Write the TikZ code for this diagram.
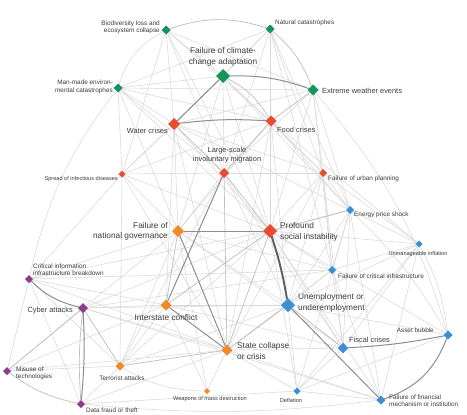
\documentclass[tikz,border=0pt]{standalone}
\usepackage{fontspec}
\setmainfont{Liberation Sans}
\usetikzlibrary{shapes.geometric}
\pgfdeclarelayer{bgl}
\pgfdeclarelayer{edges}
\pgfsetlayers{bgl,edges,main}
\definecolor{cg}{HTML}{17945B}
\definecolor{cr}{HTML}{EA4A2E}
\definecolor{co}{HTML}{F28A2A}
\definecolor{cp}{HTML}{8E3A8F}
\definecolor{cb}{HTML}{3B8FD6}
\definecolor{txt}{HTML}{3C3C3C}
\definecolor{l1}{HTML}{D9D9D9}
\definecolor{l2}{HTML}{BEBEBE}
\definecolor{l3}{HTML}{8E8E8E}
\definecolor{l4}{HTML}{5E5E5E}
\begin{document}
\begin{tikzpicture}[x=1pt,y=-1pt,
  dia/.style={diamond,aspect=1,inner sep=0pt,outer sep=0pt,minimum size=#1},
  nG/.style={dia=#1,fill=cg}, nR/.style={dia=#1,fill=cr}, nO/.style={dia=#1,fill=co},
  nP/.style={dia=#1,fill=cp}, nB/.style={dia=#1,fill=cb},
  lab/.style={inner sep=0pt,text=txt},
  fL/.style={lab,font=\fontsize{8.3}{10.5}\selectfont},
  fM/.style={lab,font=\fontsize{7.4}{9.2}\selectfont},
  fS/.style={lab,font=\fontsize{6.4}{7.4}\selectfont},
  fT/.style={lab,font=\fontsize{5.6}{6.8}\selectfont},
  ln1/.style={draw=l1,line width=0.55pt},
  ln2/.style={draw=l2,line width=0.7pt},
  ln3/.style={draw=l3,line width=1.0pt},
  ln4/.style={draw=l4,line width=1.9pt},
]
\useasboundingbox (0,0) rectangle (467,415);
\begin{pgfonlayer}{bgl}
\fill[white] (0,0) rectangle (467,415);
\end{pgfonlayer}
% green
\node[nG=9pt] (bio) at (166,30) {};
\node[nG=9pt] (nat) at (270,29) {};
\node[nG=14pt] (clim) at (223,76) {};
\node[nG=9pt] (man) at (118,88) {};
\node[nG=11pt] (ext) at (313,90) {};
% red
\node[nR=12pt] (water) at (174,124) {};
\node[nR=11pt] (food) at (271,121) {};
\node[nR=10pt] (mig) at (224,173) {};
\node[nR=7pt] (spread) at (122,174) {};
\node[nR=8pt] (urban) at (323,173) {};
\node[nR=14pt] (soc) at (270,231) {};
% orange
\node[nO=12pt] (gov) at (178,231) {};
\node[nO=11pt] (inter) at (166,305) {};
\node[nO=11pt] (state) at (227,350) {};
\node[nO=9pt] (terror) at (120,366) {};
\node[nO=6pt] (wmd) at (207,391) {};
% purple
\node[nP=8pt] (cii) at (29,279) {};
\node[nP=10pt] (cyber) at (83,308) {};
\node[nP=8pt] (misuse) at (7,371) {};
\node[nP=8pt] (data) at (81,404) {};
% blue
\node[nB=8pt] (energy) at (350,210) {};
\node[nB=7pt] (infl) at (419,244) {};
\node[nB=8pt] (crit) at (332,270) {};
\node[nB=14pt] (unemp) at (288,305) {};
\node[nB=9pt] (asset) at (448,335) {};
\node[nB=10.5pt] (fiscal) at (343,348) {};
\node[nB=7pt] (deflat) at (297,391) {};
\node[nB=9pt] (fin) at (381,400) {};
% labels
\node[fS,anchor=east,align=right] (bioL) at (160,27.5) {Biodiversity loss and\\ecosystem collapse};
\node[fS,anchor=west] (natL) at (275,22.5) {Natural catastrophes};
\node[fL,align=center] (climL) at (223,57) {Failure of climate-\\change adaptation};
\node[fS,anchor=east,align=right] (manL) at (113,87) {Man-made environ-\\mental catastrophes};
\node[fM,anchor=west] (extL) at (322,90.5) {Extreme weather events};
\node[fM,anchor=east] (waterL) at (168,130.5) {Water crises};
\node[fM,anchor=west] (foodL) at (277,129.5) {Food crises};
\node[fM,align=center] (migL) at (227,155) {Large-scale\\involuntary migration};
\node[fT,anchor=east] (spreadL) at (118,179.5) {Spread of infectious diseases};
\node[fS,anchor=west] (urbanL) at (328,179) {Failure of urban planning};
\node[fL,anchor=west,align=left] (socL) at (280,232) {Profound\\social instability};
\node[fL,anchor=east,align=right] (govL) at (168,231.5) {Failure of\\national governance};
\node[fS,anchor=west] (energyL) at (354,215) {Energy price shock};
\node[fT] (inflL) at (418,254) {Unmanageable inflation};
\node[fS,anchor=west] (critL) at (338,276) {Failure of critical infrastructure};
\node[fL,anchor=west,align=left] (unempL) at (298,303) {Unemployment or\\underemployment};
\node[fS,anchor=west,align=left] (ciiL) at (33,270) {Critical information\\infrastructure breakdown};
\node[fM,anchor=east] (cyberL) at (73,311) {Cyber attacks};
\node[fL] (interL) at (166,318) {Interstate conflict};
\node[fL,anchor=west,align=left] (stateL) at (237,351) {State collapse\\or crisis};
\node[fS,anchor=east] (assetL) at (434,330) {Asset bubble};
\node[fM,anchor=west] (fiscalL) at (349,340) {Fiscal crises};
\node[fS,anchor=west,align=left] (misuseL) at (16,373.5) {Misuse of\\technologies};
\node[fS] (terrorL) at (122,378) {Terrorist attacks};
\node[fT] (wmdL) at (210,399.5) {Weapons of mass destruction};
\node[fT] (deflatL) at (291,400.5) {Deflation};
\node[fS,anchor=west] (dataL) at (86,410.5) {Data fraud or theft};
\node[fS,anchor=west,align=left] (finL) at (389,400.5) {Failure of financial\\mechanism or institution};
\begin{pgfonlayer}{edges}
\foreach \a/\b in {bio/clim,bio/water,bio/food,bio/ext,bio/mig,bio/spread,bio/soc,
  nat/clim,nat/water,nat/food,nat/mig,nat/urban,nat/crit,nat/man,nat/soc,nat/energy,
  clim/man,clim/mig,clim/soc,clim/gov,clim/spread,clim/urban,clim/energy,
  man/water,man/food,man/ext,man/spread,man/mig,man/soc,man/gov,
  ext/water,ext/mig,ext/urban,ext/crit,ext/energy,ext/soc,
  water/spread,water/soc,water/gov,water/inter,water/urban,water/state,water/energy,
  food/soc,food/urban,food/energy,food/infl,food/gov,food/state,food/spread,food/unemp,
  mig/gov,mig/spread,mig/urban,mig/unemp,mig/terror,mig/fiscal,
  spread/soc,spread/gov,spread/cii,spread/state,spread/terror,
  urban/soc,urban/crit,urban/energy,urban/unemp,urban/infl,urban/fiscal,urban/state,
  soc/energy,soc/infl,soc/crit,soc/fiscal,soc/terror,soc/cyber,soc/fin,soc/deflat,soc/asset,
  gov/terror,gov/cyber,gov/unemp,gov/fiscal,gov/cii,gov/crit,gov/wmd,
  energy/infl,energy/crit,energy/unemp,energy/fiscal,energy/deflat,energy/fin,
  infl/unemp,infl/fiscal,infl/fin,infl/deflat,infl/crit,
  crit/unemp,crit/cyber,crit/cii,crit/fiscal,crit/state,crit/fin,
  unemp/deflat,unemp/asset,unemp/inter,unemp/terror,
  cii/data,cii/misuse,cii/state,cii/terror,cii/inter,cii/soc,
  cyber/misuse,cyber/inter,cyber/state,cyber/fin,cyber/unemp,
  inter/terror,inter/wmd,inter/fiscal,
  state/wmd,state/fiscal,state/deflat,state/fin,
  terror/data,terror/misuse,
  deflat/fiscal,deflat/fin,deflat/asset,
  data/deflat,data/state,misuse/state,misuse/inter}
  \draw[ln1] (\a) -- (\b);
% curved light arcs
\draw[ln2] (bio) to[bend left=18] (nat);
\draw[ln2] (nat) to[bend left=14] (ext);
\draw[ln1] (bio) to[bend right=22] (man);
\draw[ln1] (man) to[bend right=12] (cii);
\draw[ln2] (misuse) to[bend right=12] (data);
\draw[ln1] (data) to[bend right=6] (fin);
\draw[ln1] (ext) to[bend left=12] (asset);
\draw[ln1] (energy) to[bend left=8] (asset);
\draw[ln1] (infl) to[bend left=10] (asset);
\draw[ln1] (terror) to[bend right=15] (wmd);
% medium
\foreach \a/\b in {ext/food,mig/soc,gov/inter,energy/soc,cyber/misuse,terror/state,cyber/terror,
  water/mig,food/mig,unemp/state,soc/inter,mig/state}
  \draw[ln2] (\a) -- (\b);
\draw[ln2] (clim) to[bend left=15] (food);
\draw[ln2] (cyber) to[bend right=5] (data);
% dark
\draw[ln3] (clim) to[bend left=10] (ext);
\draw[ln3] (clim) -- (water);
\draw[ln3] (water) to[bend left=5] (food);
\draw[ln3] (gov) -- (soc);
\draw[ln3] (gov) -- (state);
\draw[ln3] (inter) -- (state);
\draw[ln3] (mig) -- (inter);
\draw[ln2] (soc) -- (state);
\draw[ln3] (unemp) -- (fin);
\draw[ln2] (unemp) -- (fiscal);
\draw[ln3] (fin) to[bend right=25] (asset);
\draw[ln3] (fiscal) to[bend right=4] (asset);
\draw[ln3] (cii) to[bend right=15] (cyber);
\draw[ln3] (cyber) to[bend left=4] (data);
\draw[ln4] (soc) to[bend left=4] (unemp);
\end{pgfonlayer}
\end{tikzpicture}
\end{document}
